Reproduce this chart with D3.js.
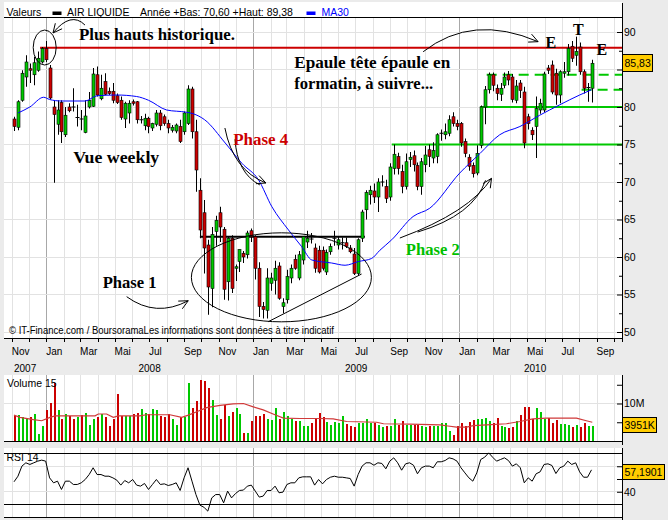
<!DOCTYPE html>
<html>
<head>
<meta charset="utf-8">
<script src="https://cdn.jsdelivr.net/npm/d3@7/dist/d3.min.js"></script>
<style>
html,body{margin:0;padding:0;background:#ebebeb;}
svg{display:block;}
</style>
</head>
<body>
<svg id="chart" width="668" height="520"></svg>
<script>
// ---------------- DATA (weekly, AIR LIQUIDE) ----------------
const firstWeek = "2007-11-05";
const open = [78.4,77.3,80.9,84.0,85.1,84.3,84.9,86.0,87.8,85.2, 80.0,77.7,80.6,76.3,80.0,80.1,78.6,78.5,76.6,80.0,
  80.1,84.3,81.1,83.4,82.1,82.1,81.5,80.9,78.4,79.2, 80.7,80.7,78.3,77.5,78.5,77.2,77.7,79.2,78.7,77.8,
  76.9,76.8,77.4,76.7,77.8,82.4,76.7,68.9,65.9,61.6, 55.8,63.4,65.9,63.7,56.7,62.5,58.5,59.4,60.5,60.3,
  63.5,62.7,58.5,53.4,52.9,56.5,56.9,58.8,53.4,54.3, 57.2,59.7,57.2,59.6,62.0,62.5,61.2,60.9,60.9,58.0,
  60.7,62.4,61.6,61.8,61.9,61.2,60.4,57.8,62.5,66.3, 68.3,68.8,68.0,70.0,69.4,68.0,71.8,73.4,71.4,69.4,
  73.0,73.5,72.2,69.4,72.3,74.3,73.2,73.4,76.5,76.3, 76.5,78.7,77.8,77.8,75.4,73.3,72.2,71.2,74.9,80.0,
  82.3,84.3,82.5,81.7,82.9,84.3,84.0,80.9,83.2,82.0, 78.7,76.9,77.4,79.6,79.6,85.2,85.6,84.5,81.6,84.5,
  84.7,88.1,86.9,88.0,84.7,82.5,82.5];
const high = [78.7,80.9,84.9,86.9,85.8,86.7,87.4,88.0,88.8,85.6, 80.9,80.9,80.9,80.0,80.5,82.5,80.3,79.6,80.9,82.0,
  85.2,85.4,84.3,84.5,82.6,83.2,81.8,81.4,80.7,80.9, 81.0,80.8,78.8,79.1,78.7,77.9,79.6,79.6,79.0,78.3,
  77.6,77.8,78.3,79.4,82.9,82.7,78.3,70.5,67.6,62.3, 64.0,65.5,66.7,64.0,62.8,62.9,59.0,61.0,60.8,63.5,
  63.8,62.9,59.3,54.0,58.5,57.9,59.5,59.3,54.5,58.3, 59.0,60.3,60.8,62.8,63.5,63.2,61.8,61.5,61.4,61.0,
  61.8,63.5,62.8,62.6,62.6,61.6,61.2,62.5,66.3,68.9, 69.5,69.8,70.5,70.9,70.3,72.5,75.0,73.9,72.3,73.8,
  74.0,74.2,72.6,73.2,74.8,75.0,75.3,76.5,77.0,77.8, 78.9,79.3,78.3,78.0,75.8,73.7,72.6,74.9,80.2,82.8,
  84.6,84.6,83.0,83.2,84.6,84.8,84.4,83.6,83.6,82.7, 79.1,77.3,81.4,81.1,84.7,85.6,86.2,85.1,84.9,86.0,
  88.4,88.8,89.38,88.6,85.0,83.2,86.3];
const low = [76.8,76.9,80.7,82.7,83.2,82.9,84.7,85.8,86.0,81.0, 69.9,76.3,75.2,76.0,79.3,79.4,77.4,76.9,76.5,79.8,
  80.0,81.4,80.9,81.6,81.6,80.5,80.4,78.3,77.2,77.8, 80.2,77.8,77.8,76.9,76.5,76.8,77.4,76.9,77.5,76.5,
  76.6,76.5,75.2,76.3,77.6,75.8,68.7,62.5,57.8,52.3, 53.3,61.5,62.0,54.3,54.2,55.2,56.8,58.0,59.2,59.8,
  62.0,57.0,52.0,51.8,51.8,55.5,55.0,54.3,52.5,53.8, 56.5,58.3,56.9,59.0,61.2,61.8,57.9,57.8,58.2,57.6,
  60.3,61.5,61.0,61.0,61.2,60.5,57.6,57.5,62.0,65.0, 67.0,67.2,66.0,69.4,67.2,67.5,71.0,71.0,68.5,69.0,
  72.0,71.4,68.9,68.3,71.3,72.0,72.5,72.5,75.5,75.7, 76.1,77.4,76.9,74.7,73.3,71.5,70.6,70.9,74.5,77.7,
  81.8,82.1,80.9,80.8,82.5,82.9,80.6,80.5,81.2,74.5, 77.0,75.6,73.2,79.1,79.3,84.4,81.7,80.3,80.5,83.9,
  84.2,86.0,85.5,84.3,81.8,80.7,80.6];
const close = [77.4,80.7,84.5,86.0,84.9,85.9,86.5,87.8,86.3,81.2, 79.0,79.6,76.7,78.9,79.5,80.0,78.6,78.4,78.8,80.9,
  84.4,81.6,82.5,81.7,81.8,80.9,80.6,78.6,80.5,80.5, 80.5,78.3,78.3,78.5,77.4,77.8,79.2,77.5,77.8,77.2,
  77.3,77.6,75.4,79.2,82.4,76.7,71.6,63.6,61.2,56.0, 63.0,64.9,64.0,55.7,62.5,55.8,58.7,61.0,60.0,63.2,
  62.7,58.5,53.4,53.0,57.2,57.2,58.5,54.5,53.9,57.4, 58.5,58.5,60.3,62.7,62.5,62.4,58.5,58.0,58.5,60.6,
  61.4,62.5,62.3,61.9,61.4,60.7,57.8,62.3,66.0,68.6, 68.9,68.0,70.0,70.0,67.8,72.0,73.7,71.8,69.4,72.7,
  73.3,72.3,69.4,72.7,73.6,73.4,74.2,76.3,76.5,76.7, 78.3,77.8,77.4,75.2,73.8,72.1,71.1,73.8,80.0,82.3,
  84.3,82.9,81.8,82.5,84.0,83.6,81.0,82.8,82.2,75.2, 77.8,76.3,79.8,80.5,84.4,84.9,82.0,81.6,84.7,84.7,
  87.8,86.5,87.4,84.7,82.5,82.6,85.83];
// volume in millions of shares
const volume = [6.6,6.9,6.3,5.9,6.5,7.2,1.8,4.1,8.4,10.2, 15.5,8.3,5.8,7.2,6.6,5.8,6.3,6.9,7.5,4.4,
  5.9,6.5,7.1,6.5,4.0,5.8,12.5,6.6,6.7,6.6, 7.3,7.5,8.5,7.6,7.3,8.5,8.4,6.7,6.5,7.2,
  5.8,4.4,6.3,6.3,15.5,8.9,10.6,16.3,15.9,14.2, 11.0,7.0,5.9,9.5,6.6,7.8,8.8,7.2,2.1,2.1,
  5.3,6.7,6.6,7.1,5.8,5.7,8.8,5.8,7.8,6.8, 6.0,5.3,5.4,3.9,4.1,4.9,6.1,7.6,6.5,5.2,
  4.4,5.2,4.7,6.7,4.6,4.1,3.7,4.8,4.8,5.9, 4.8,4.8,4.4,3.7,4.1,4.1,5.9,4.4,5.3,4.4,
  4.4,4.4,4.4,3.9,3.7,3.9,3.9,3.9,4.7,4.9, 2.8,1.5,4.1,4.7,3.9,5.2,5.7,5.8,5.9,6.1,
  5.4,4.9,6.2,4.1,3.7,3.4,3.7,5.3,7.0,9.1, 9.1,6.0,8.8,7.7,5.8,6.2,4.7,5.7,4.5,4.5,
  4.4,3.7,4.4,3.7,4.7,4.1,3.951];
const rsi14 = [47.8,52.2,60.1,62.7,61.4,62.7,64.0,64.8,64.0,50.9, 47.0,48.3,41.8,48.3,48.3,45.7,45.7,47.0,49.6,53.5,
  58.8,53.5,53.5,52.2,52.2,50.9,49.1,45.2,48.8,47.0, 49.6,45.2,44.4,46.5,41.8,45.7,49.6,45.7,46.2,44.9,
  45.7,47.0,41.0,50.9,58.8,48.3,37.8,29.5,27.9,24.8, 35.2,37.8,37.8,31.3,40.5,35.2,38.6,41.0,41.3,44.4,
  45.2,40.5,35.8,36.6,41.0,41.0,44.4,39.2,39.7,45.7, 47.0,47.0,50.9,51.7,51.7,51.7,45.2,49.6,46.2,49.6,
  51.4,52.2,51.4,51.4,50.9,50.4,44.4,53.5,60.1,62.7, 62.7,60.8,62.7,62.2,58.0,64.0,66.6,62.7,56.9,61.9,
  62.7,60.8,54.1,58.8,60.1,60.1,58.8,63.5,63.5,64.5, 66.6,65.8,64.0,58.8,54.8,50.9,48.3,54.8,65.3,67.1,
  70.5,67.1,64.0,65.3,66.6,64.5,60.1,61.9,58.8,47.0, 50.9,48.3,54.1,55.6,61.4,61.9,60.6,54.3,58.8,60.1,
  64.0,61.4,62.7,55.6,51.4,51.4,57.1901];
// moving averages: [week index, value]
const ma30 = [[1,79.2],[4,80.0],[7.5,81.3],[9,81.0],[12,80.8],[18,80.8],[21,81.5],[26,81.6],[31,81.4],[34,80.9],
  [38.6,79.6],[43.6,79.3],[45.3,79.1],[48.2,78.3],[53.4,75.2],[57.6,72.5],[61.8,70.3],[65.2,66.7],[69.4,63.6],
  [72.7,61.4],[75.3,59.6],[80.3,59.2],[83.7,58.9],[87.1,59.4],[90.4,59.8],[92.5,60.9],[95.5,62.3],[100.9,65.4],
  [105.1,66.5],[112.7,71.2],[117.8,73.8],[122.8,76.3],[127.9,77.4],[132.9,78.9],[138,80.3],[143,81.6],[146,82.3]];
const volMA15 = [[0,6.9],[1.5,6.3],[4.9,5.7],[7,5.4],[9.1,6.3],[10.4,6.7],[20.5,6.7],[21.3,7.2],[23.4,7.2],[25.1,6.3],
  [26.4,6.7],[31.8,6.7],[33.5,7.0],[39.4,7.0],[42.4,6.3],[44.1,6.9],[46.2,7.8],[48.7,8.9],[52.1,9.5],[55.4,9.9],
  [58,10.0],[60.5,9.1],[63,8.3],[65.5,7.2],[68.1,6.1],[72.3,6.0],[77.3,6.0],[80.7,5.9],[84.1,5.2],[91.7,5.0],
  [93.4,4.6],[100.1,4.5],[107.7,4.3],[109.7,4.0],[111.9,3.7],[114.4,3.7],[116.1,4.1],[119.5,4.3],[124.5,4.6],
  [127.9,5.2],[131.2,5.9],[134.6,6.1],[142.2,6.1],[144.7,5.4],[146.2,5.0]];
const monthLabels = ["Jan","Fév","Mar","Avr","Mai","Jun","Jul","Aoû","Sep","Oct","Nov","Déc"];
const priceTicks = [50,55,60,65,70,75,80,85,90];
const priceMinorTicks = [52.5,57.5,62.5,67.5,72.5,77.5,82.5,87.5];
const volumeTicks = [5,10,15];
const rsiTicks = [40,50,60];
const rsiBands = [30,70];
const headerTexts = ["Valeurs","AIR LIQUIDE","Année +Bas: 70,60 +Haut: 89,38","MA30"];
const footerText = "© IT-Finance.com / BoursoramaLes informations sont données à titre indicatif";

// ---------------- SETUP ----------------
const svg = d3.select("#chart");
const SANS = "'Liberation Sans', Arial, Helvetica, sans-serif";
const SERIF = "'Liberation Serif', 'Times New Roman', serif";
const GREEN = "#00c800", RED = "#cc0000", GRID = "#e2e2e2", YEARGRID = "#a8a8a8";
const L = 4, R = 622;

const t0 = d3.utcParse("%Y-%m-%d")(firstWeek);
const N = close.length;
const WEEK = 7 * 864e5;
const dateAt = i => new Date(+t0 + i * WEEK);
const dates = d3.range(N).map(dateAt);

const x = d3.scaleUtc().domain([dates[0], dates[N - 1]]).range([14, 591.5]);
const yP = d3.scaleLinear().domain([50, 90]).range([332, 32]);
const yV = d3.scaleLinear().domain([0, 10]).range([441, 403.5]);
const yR = d3.scaleLinear().domain([30, 70]).range([504.5, 453.5]);

const panels = [
  {top: 2, gridTop: 17.5, bottom: 338.5, axisTop: 3},
  {top: 375, gridTop: 375, bottom: 441.5, axisTop: 375},
  {top: 448, gridTop: 448, bottom: 517.5, axisTop: 448}
];
panels.forEach(p => svg.append("rect").attr("x", L).attr("y", p.top).attr("width", R - L)
  .attr("height", p.bottom - p.top).attr("fill", "#fff"));

// vertical monthly grid
const months = d3.utcMonth.range(new Date(Date.UTC(2007, 10, 1)), new Date(Date.UTC(2010, 10, 1)))
  .filter(m => x(m) > L && x(m) < R);
const grid = svg.append("g").attr("shape-rendering", "crispEdges");
panels.forEach(p => {
  grid.selectAll(null).data(months).join("line")
    .attr("x1", m => Math.round(x(m)) + 0.5).attr("x2", m => Math.round(x(m)) + 0.5)
    .attr("y1", p.gridTop).attr("y2", p.bottom)
    .attr("stroke", m => m.getUTCMonth() === 0 ? YEARGRID : GRID);
});
// horizontal grids
grid.selectAll(null).data(priceTicks).join("line")
  .attr("x1", L).attr("x2", R).attr("y1", d => yP(d)).attr("y2", d => yP(d)).attr("stroke", GRID);
grid.append("line").attr("x1", L).attr("x2", R).attr("y1", yV(10)).attr("y2", yV(10)).attr("stroke", GRID);
grid.selectAll(null).data([40, 60]).join("line")
  .attr("x1", L).attr("x2", R).attr("y1", d => yR(d)).attr("y2", d => yR(d)).attr("stroke", GRID);

// frame lines
const frame = svg.append("g").attr("stroke", "#000").attr("shape-rendering", "crispEdges");
frame.append("line").attr("x1", L).attr("x2", R).attr("y1", 17.5).attr("y2", 17.5);
panels.forEach(p => {
  frame.append("line").attr("x1", L).attr("x2", R + 1).attr("y1", p.bottom).attr("y2", p.bottom);
  frame.append("line").attr("x1", R + 0.5).attr("x2", R + 0.5).attr("y1", p.axisTop).attr("y2", p.bottom + 3);
});
rsiBands.forEach(b => frame.append("line").attr("x1", L).attr("x2", R).attr("y1", yR(b)).attr("y2", yR(b)));
frame.selectAll(null).data(months).join("line")
  .attr("x1", m => Math.round(x(m)) + 0.5).attr("x2", m => Math.round(x(m)) + 0.5)
  .attr("y1", 338.5).attr("y2", 342);

// ---------------- ANNOTATION LINES (behind candles) ----------------
const ann = svg.append("g");
const hLines = [
  {p: 87.9, from: 6.6, color: RED, w: 2},
  {p: 80, from: 117.8, color: GREEN, w: 2},
  {p: 75, from: 95.5, color: GREEN, w: 2},
  {p: 84.3, from: 119.5, color: GREEN, w: 2, dash: "10,6"},
  {p: 82.3, from: 143.5, color: GREEN, w: 2, dash: "10,6"},
  {p: 62.71, from: 47, to: 88.7, color: "#000", w: 2}
];
hLines.forEach(h => ann.append("line")
  .attr("x1", x(dateAt(h.from))).attr("x2", h.to != null ? x(dateAt(h.to)) : R)
  .attr("y1", yP(h.p)).attr("y2", yP(h.p))
  .attr("stroke", h.color).attr("stroke-width", h.w).attr("stroke-dasharray", h.dash || null));

// ---------------- CANDLES ----------------
const cx = i => Math.round(x(dates[i])) + 0.5;
const gC = svg.append("g");
gC.selectAll("line.wick").data(d3.range(N)).join("line").attr("class", "wick")
  .attr("x1", cx).attr("x2", cx).attr("y1", i => yP(high[i])).attr("y2", i => yP(low[i]))
  .attr("stroke", "#000").attr("stroke-width", 1);
const bodyIdx = d3.range(N).filter(i => Math.abs(close[i] - open[i]) >= 0.15);
gC.selectAll("rect.body").data(bodyIdx).join("rect").attr("class", "body")
  .attr("x", i => cx(i) - 1.5).attr("width", 3)
  .attr("y", i => yP(Math.max(open[i], close[i])))
  .attr("height", i => Math.max(1, Math.abs(yP(open[i]) - yP(close[i]))))
  .attr("fill", i => close[i] >= open[i] ? GREEN : RED)
  .attr("stroke", "#000").attr("stroke-width", 0.6);
const dojiIdx = d3.range(N).filter(i => Math.abs(close[i] - open[i]) < 0.15);
gC.selectAll("line.doji").data(dojiIdx).join("line").attr("class", "doji")
  .attr("x1", i => cx(i) - 2).attr("x2", i => cx(i) + 2)
  .attr("y1", i => yP(close[i])).attr("y2", i => yP(close[i]))
  .attr("stroke", "#000").attr("stroke-width", 1);

// MA30
svg.append("path").datum(ma30)
  .attr("d", d3.line().x(d => x(dateAt(d[0]))).y(d => yP(d[1])).curve(d3.curveMonotoneX))
  .attr("fill", "none").attr("stroke", "#0000ff").attr("stroke-width", 1);

// ---------------- VOLUME ----------------
svg.append("g").attr("shape-rendering", "crispEdges")
  .selectAll("rect").data(d3.range(N)).join("rect")
  .attr("x", i => Math.round(x(dates[i])) - 0.5).attr("width", 2)
  .attr("y", i => yV(volume[i])).attr("height", i => yV(0) - yV(volume[i]))
  .attr("fill", i => close[i] >= open[i] ? GREEN : RED);
svg.append("path").datum(volMA15)
  .attr("d", d3.line().x(d => x(dateAt(d[0]))).y(d => yV(d[1])))
  .attr("fill", "none").attr("stroke", "#d03a3a").attr("stroke-width", 1.2);

// ---------------- RSI ----------------
svg.append("path").datum(rsi14)
  .attr("d", d3.line().x((d, i) => x(dates[i])).y(d => yR(d)))
  .attr("fill", "none").attr("stroke", "#000").attr("stroke-width", 1);

// ---------------- AXES ----------------
function styleAxis(g) {
  g.select(".domain").remove();
  g.selectAll("text").attr("font-family", SANS).attr("font-size", 10.5).attr("fill", "#000");
  g.selectAll("line").attr("stroke", "#000");
}
const lastY = yP(close[N - 1]);
svg.append("g").attr("transform", `translate(${R},0)`)
  .call(d3.axisRight(yP).tickValues(priceTicks).tickSizeInner(-5).tickSizeOuter(0).tickPadding(2)
    .tickFormat(d => Math.abs(yP(d) - lastY) < 12 ? "" : d))
  .call(styleAxis);
svg.append("g").attr("transform", `translate(${R},0)`)
  .call(d3.axisRight(yP).tickValues(priceMinorTicks).tickSizeInner(-3).tickSizeOuter(0).tickFormat(""))
  .call(styleAxis);
svg.append("g").attr("transform", `translate(${R},0)`)
  .call(d3.axisRight(yV).tickValues(volumeTicks).tickSizeInner(-5).tickSizeOuter(0).tickPadding(2)
    .tickFormat(d => d === 10 ? "10M" : ""))
  .call(styleAxis);
svg.append("g").attr("transform", `translate(${R},0)`)
  .call(d3.axisRight(yR).tickValues(rsiTicks).tickSizeInner(-5).tickSizeOuter(0).tickPadding(2)
    .tickFormat(d => d === 40 ? "40" : ""))
  .call(styleAxis);

// month / year labels
const xl = svg.append("g").attr("font-family", SANS).attr("font-size", 10).attr("fill", "#000");
xl.selectAll(null).data(months.filter(m => m.getUTCMonth() % 2 === 0)).join("text")
  .attr("x", m => Math.max(8.5, x(m))).attr("y", 355)
  .text(m => monthLabels[m.getUTCMonth()]);
const years = [2007, 2008, 2009, 2010];
xl.selectAll(null).data(years).join("text")
  .attr("text-anchor", "middle").attr("y", 372)
  .attr("x", yr => {
    const a = Math.max(L, x(new Date(Date.UTC(yr, 0, 1))));
    const b = Math.min(611, x(new Date(Date.UTC(yr + 1, 0, 1))));
    return (a + b) / 2;
  })
  .text(d => d);

// value boxes
function valueBox(y, label, h) {
  const g = svg.append("g").attr("transform", `translate(${R + 0.5},${y})`);
  const r = g.append("rect").attr("fill", "#ffcc00").attr("stroke", "#000").attr("shape-rendering", "crispEdges");
  const t = g.append("text").attr("x", 2).attr("dy", "0.36em").attr("font-family", SANS)
    .attr("font-size", 10.5).text(label);
  const w = t.node().getComputedTextLength();
  r.attr("x", 0).attr("y", -h / 2).attr("width", w + 4).attr("height", h);
}
valueBox(lastY, d3.format(".2f")(close[N - 1]).replace(".", ","), 17);
valueBox(yV(volume[N - 1]) - 1, Math.round(volume[N - 1] * 1000) + "K", 15);
valueBox(yR(rsi14[N - 1]) + 2, d3.format(".4f")(rsi14[N - 1]).replace(".", ","), 15);

// header
const hd = svg.append("g").attr("font-family", SANS).attr("font-size", 10.5);
hd.append("text").attr("x", 6.5).attr("y", 15.5).text(headerTexts[0]);
hd.append("rect").attr("x", 52.5).attr("y", 11.5).attr("width", 9).attr("height", 3.5).attr("fill", "#000");
hd.append("text").attr("x", 67).attr("y", 15.5).text(headerTexts[1]);
hd.append("text").attr("x", 140).attr("y", 15.5).text(headerTexts[2]);
hd.append("rect").attr("x", 306.5).attr("y", 11.5).attr("width", 9).attr("height", 3.5).attr("fill", "#0000ff");
hd.append("text").attr("x", 321.5).attr("y", 15.5).attr("fill", "#0000ff").text(headerTexts[3]);

svg.append("text").attr("x", 9).attr("y", 334).attr("font-family", SANS).attr("font-size", 10)
  .attr("textLength", 325).attr("lengthAdjust", "spacingAndGlyphs").text(footerText);
svg.append("text").attr("x", 7).attr("y", 386.5).attr("font-family", SANS).attr("font-size", 10.5).text("Volume 15");
svg.append("text").attr("x", 6.5).attr("y", 461).attr("font-family", SANS).attr("font-size", 10.5).text("RSI 14");

// ---------------- HAND-DRAWN ANNOTATIONS ----------------
const pt = (i, p) => [x(dateAt(i)), yP(p)];
const shapes = svg.append("g").attr("fill", "none").attr("stroke", "#000").attr("stroke-width", 1);
[{i: 67.6, p: 57.29, rx: 90, ry: 44.5}, {i: 7.76, p: 87.93, rx: 11.5, ry: 17.5}].forEach(e => {
  const [ex, ey] = pt(e.i, e.p);
  shapes.append("ellipse").attr("cx", ex).attr("cy", ey).attr("rx", e.rx).attr("ry", e.ry);
});
const [sx1, sy1] = pt(64.27, 51.37), [sx2, sy2] = pt(87.87, 57.73);
shapes.append("line").attr("x1", sx1).attr("y1", sy1).attr("x2", sx2).attr("y2", sy2);

const arrows = [
  {a: [17.94, 90.93], c: [14.40, 92.80], b: [9.86, 89.87]},
  {a: [53.32, 77.20], c: [55.35, 71.60], b: [63.68, 69.87], twin: true},
  {a: [97.55, 62.53], c: [115.24, 66.00], b: [120.72, 70.49], twin: true},
  {a: [103.44, 87.37], c: [115.90, 92.49], b: [132.50, 88.71]},
  {a: [28.48, 54.71], c: [35.86, 51.88], b: [44.05, 54.17]}
];
arrows.forEach(ar => {
  const A = pt(...ar.a), C = pt(...ar.c), B = pt(...ar.b);
  shapes.append("path").attr("d", `M${A}Q${C} ${B}`);
  if (ar.twin) {
    const A2 = [A[0] + (B[0] - A[0]) * 0.15 + 4, A[1] + (B[1] - A[1]) * 0.15 + 3];
    const B2 = [B[0] - 6, B[1] + 2];
    shapes.append("path").attr("d", `M${A2}Q${[C[0] + 4, C[1] + 3]} ${B2}`);
  }
  const ang = Math.atan2(B[1] - C[1], B[0] - C[0]);
  [0.45, -0.45].forEach(d => {
    shapes.append("line").attr("x1", B[0]).attr("y1", B[1])
      .attr("x2", B[0] - 10 * Math.cos(ang + d)).attr("y2", B[1] - 10 * Math.sin(ang + d));
  });
});

const notes = [
  {t: "Plus hauts historique.", i: 16.43, p: 88.91, w: 156, c: "#000"},
  {t: "Vue weekly", i: 14.99, p: 72.53, w: 86, c: "#000"},
  {t: "Phase 1", i: 22.42, p: 55.87, w: 54, c: "#000"},
  {t: "Phase 4", i: 55.42, p: 74.93, w: 55, c: "#cc0000"},
  {t: "Epaule tête épaule en", i: 70.84, p: 85.16, w: 156, c: "#000"},
  {t: "formatin, à suivre...", i: 70.84, p: 82.36, w: 139, c: "#000"},
  {t: "Phase 2", i: 99.07, p: 60.27, w: 54, c: "#00c000"},
  {t: "E", i: 134.37, p: 87.83, c: "#000"},
  {t: "T", i: 141.35, p: 89.6, c: "#000"},
  {t: "E", i: 147.26, p: 86.93, c: "#000"}
];
notes.forEach(n => {
  const [nx, ny] = pt(n.i, n.p);
  const t = svg.append("text").attr("x", nx).attr("y", ny).attr("font-family", SERIF)
    .attr("font-weight", "bold").attr("font-size", 16).attr("fill", n.c).text(n.t);
  if (n.w) t.attr("textLength", n.w).attr("lengthAdjust", "spacingAndGlyphs");
});
</script>
</body>
</html>
